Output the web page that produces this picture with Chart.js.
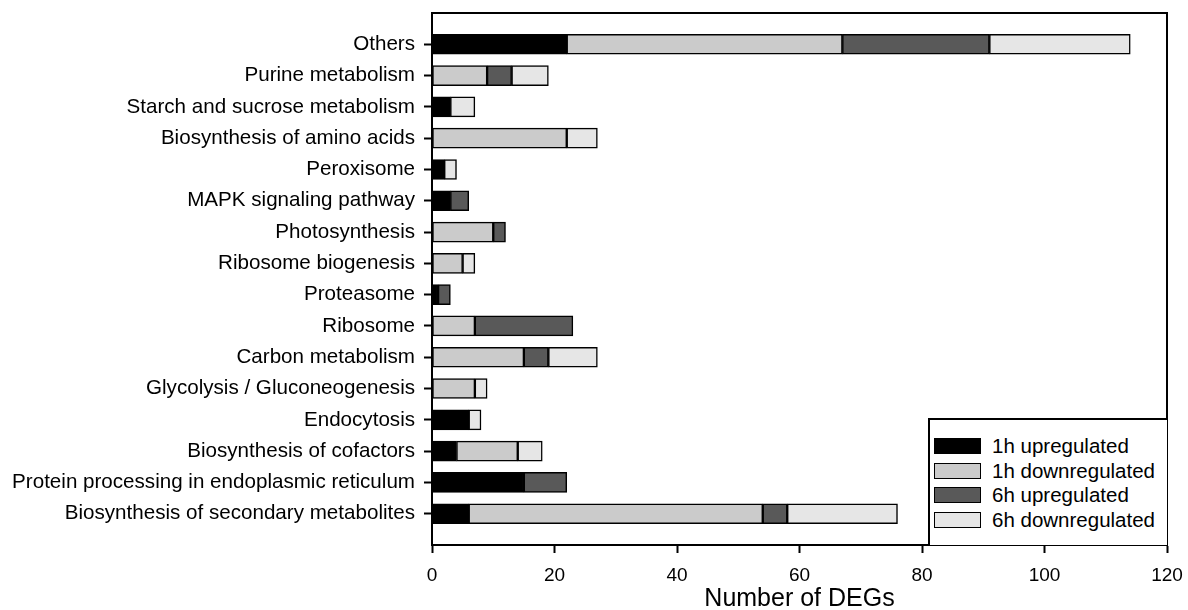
<!DOCTYPE html>
<html>
<head>
<meta charset="utf-8">
<script src="https://cdn.jsdelivr.net/npm/chart.js@4/dist/chart.umd.min.js"></script>
<style>
  html, body { margin: 0; padding: 0; background: #fff; }
  #wrap { position: relative; width: 1188px; height: 610px; }
  #legend {
    position: absolute; left: 928px; top: 418px; width: 239px; height: 127px;
    box-sizing: border-box; border: 2px solid #000; border-right: none; border-bottom: none;
    background: #fff; font-family: "Liberation Sans", Arial, sans-serif; font-size: 20.5px; color: #000;
    padding-top: 14px;
  }
  .item { display: flex; align-items: center; height: 24.6px; padding-left: 4px; }
  .sw { width: 45px; height: 14px; border: 1.5px solid #000; margin-right: 11px; }
</style>
</head>
<body>
<div id="wrap">
  <canvas id="c" width="1188" height="610"></canvas>
  <div id="legend"></div>
</div>
<script>
// KEGG pathway categories, listed top to bottom
const categories = [
  'Others',
  'Purine metabolism',
  'Starch and sucrose metabolism',
  'Biosynthesis of amino acids',
  'Peroxisome',
  'MAPK signaling pathway',
  'Photosynthesis',
  'Ribosome biogenesis',
  'Proteasome',
  'Ribosome',
  'Carbon metabolism',
  'Glycolysis / Gluconeogenesis',
  'Endocytosis',
  'Biosynthesis of cofactors',
  'Protein processing in endoplasmic reticulum',
  'Biosynthesis of secondary metabolites'
];

// Number of DEGs per category and group
const up1h   = [22, 0, 3, 0, 2, 3, 0, 0, 1, 0, 0, 0, 6, 4, 15, 6];
const down1h = [45, 9, 0, 22, 0, 0, 10, 5, 0, 7, 15, 7, 0, 10, 0, 48];
const up6h   = [24, 4, 0, 0, 0, 3, 2, 0, 2, 16, 4, 0, 0, 0, 7, 4];
const down6h = [23, 6, 4, 5, 2, 0, 0, 2, 0, 0, 8, 2, 2, 4, 0, 18];

const seriesNames = ['1h upregulated', '1h downregulated', '6h upregulated', '6h downregulated'];
const seriesColors = ['#000000', '#cbcbcb', '#595959', '#e6e6e6'];
const xTicks = [0, 20, 40, 60, 80, 100, 120];

// one empty slot above and below the categories gives the frame its margin
const labels = [''].concat(categories, ['']);
const pad = arr => [null].concat(arr.map(v => v === 0 ? null : v), [null]);

const datasets = [up1h, down1h, up6h, down6h].map((arr, i) => ({
  label: seriesNames[i],
  data: pad(arr),
  backgroundColor: seriesColors[i],
  borderColor: '#000',
  borderWidth: 1.5,
  borderSkipped: false,
  barThickness: 20
}));

const frame = {
  id: 'frame',
  afterDraw(chart) {
    const { ctx, chartArea: a } = chart;
    ctx.save();
    ctx.strokeStyle = '#000';
    ctx.lineWidth = 2;
    ctx.strokeRect(a.left, a.top, a.right - a.left, a.bottom - a.top);
    ctx.restore();
  }
};

const font = "'Liberation Sans', Arial, sans-serif";

new Chart(document.getElementById('c'), {
  type: 'bar',
  data: { labels, datasets },
  options: {
    indexAxis: 'y',
    responsive: false,
    animation: false,
    layout: { padding: { top: 13, right: 21, left: 0, bottom: 0 } },
    plugins: { legend: { display: false }, tooltip: { enabled: false } },
    scales: {
      x: {
        stacked: true,
        min: 0, max: 120,
        afterBuildTicks(scale) { scale.ticks = xTicks.map(v => ({ value: v })); },
        afterFit(scale) {
          scale.height = 65;
          scale.paddingLeft = 0; scale.paddingRight = 0;
        },
        border: { color: '#000', width: 2 },
        grid: { drawOnChartArea: false, color: '#000', tickLength: 8, tickWidth: 2 },
        ticks: { color: '#000', font: { family: font, size: 19 }, padding: 11, maxRotation: 0 },
        title: { display: true, text: 'Number of DEGs', color: '#000', font: { family: font, size: 25 }, padding: { top: 0, bottom: -4 } }
      },
      y: {
        stacked: true,
        offset: false,
        afterFit(scale) {
          scale.width = 432;
          scale.paddingTop = 0; scale.paddingBottom = 0;
        },
        border: { color: '#000', width: 2 },
        grid: {
          offset: false,
          drawOnChartArea: false,
          tickLength: 8,
          tickWidth: 2,
          tickColor: c => (labels[c.index] ? '#000' : 'rgba(0,0,0,0)')
        },
        ticks: { color: '#000', font: { family: font, size: 20.6 }, padding: 9, autoSkip: false }
      }
    }
  },
  plugins: [frame]
});

// legend box in the lower right corner of the plot
const leg = document.getElementById('legend');
seriesNames.forEach((name, i) => {
  const row = document.createElement('div');
  row.className = 'item';
  const sw = document.createElement('div');
  sw.className = 'sw';
  sw.style.background = seriesColors[i];
  const tx = document.createElement('span');
  tx.textContent = name;
  row.appendChild(sw);
  row.appendChild(tx);
  leg.appendChild(row);
});
</script>
</body>
</html>
